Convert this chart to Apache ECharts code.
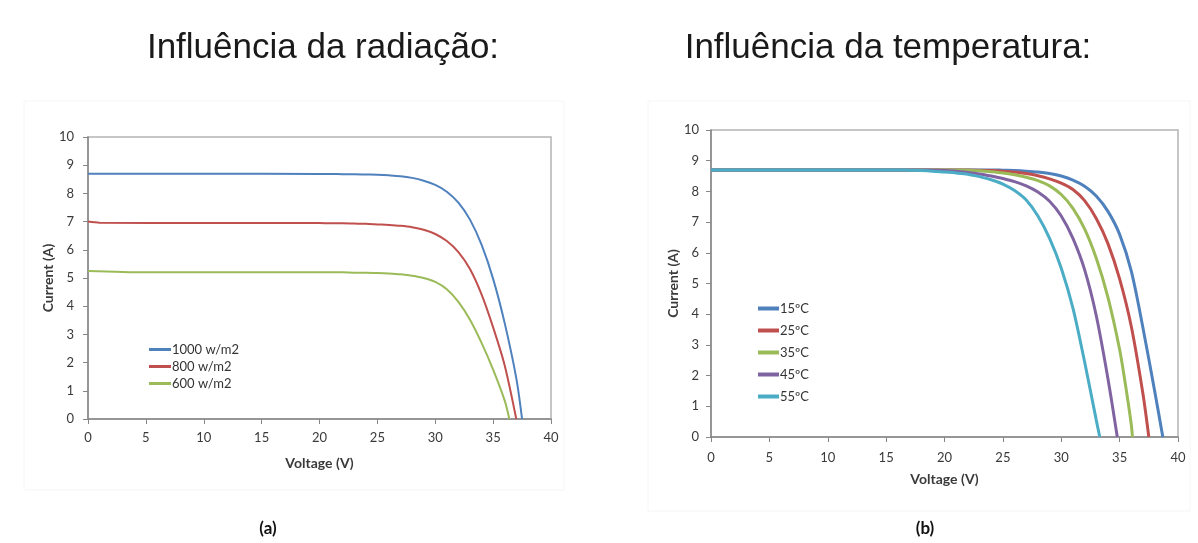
<!DOCTYPE html>
<html>
<head>
<meta charset="utf-8">
<script src="https://cdn.jsdelivr.net/npm/echarts@6/dist/echarts.min.js"></script>
<style>
  html, body { margin: 0; padding: 0; background: #fff; }
  #chart { width: 1198px; height: 543px; }
</style>
</head>
<body>
<div id="chart"></div>
<script>
// Voltage ticks shared by both panels
const voltageTicks = [0, 5, 10, 15, 20, 25, 30, 35, 40];
const currentTicks = [0, 1, 2, 3, 4, 5, 6, 7, 8, 9, 10];

// Panel (a): I-V curves for different irradiance levels, [V, I]
const irr1000 = [[0,8.7],[10,8.7],[20,8.69],[21,8.69],[22,8.68],[23,8.68],[24,8.67],[25,8.66],[26,8.64],[27,8.61],[28,8.55],[29,8.45],[30,8.3],[31,8.06],[32,7.67],[33,7.07],[34,6.18],[35,4.97],[36,3.4],[37,1.45],[37.5,0]];
const irr800  = [[0,7.0],[1,6.96],[10,6.95],[20,6.95],[21,6.94],[22,6.94],[23,6.93],[24,6.92],[25,6.9],[26,6.88],[27,6.85],[28,6.8],[29,6.71],[30,6.56],[31,6.31],[32,5.92],[33,5.32],[34,4.42],[35,3.25],[36,1.9],[37,0]];
const irr600  = [[0,5.25],[5,5.2],[20,5.2],[21,5.2],[22,5.2],[23,5.19],[24,5.19],[25,5.18],[26,5.16],[27,5.13],[28,5.08],[29,5.0],[30,4.86],[31,4.6],[32,4.15],[33,3.52],[34,2.7],[35,1.75],[36,0.65],[36.4,0]];
const irrNames = ['1000 w/m2', '800 w/m2', '600 w/m2'];

// Panel (b): I-V curves for different cell temperatures, [V, I]
const temp15 = [[0,8.7],[20,8.7],[24,8.7],[25,8.69],[26,8.68],[27,8.66],[28,8.63],[29,8.58],[30,8.5],[31,8.37],[32,8.17],[33,7.85],[34,7.35],[35,6.6],[36,5.4],[37,3.55],[38,1.5],[38.7,0]];
const temp25 = [[0,8.7],[20,8.7],[22,8.7],[24,8.68],[25,8.66],[26,8.63],[27,8.58],[28,8.51],[29,8.41],[30,8.27],[31,8.06],[32,7.7],[33,7.12],[34,6.3],[35,5.15],[36,3.6],[37,1.4],[37.5,0]];
const temp35 = [[0,8.7],[18,8.7],[20,8.7],[22,8.69],[23,8.67],[24,8.64],[25,8.6],[26,8.54],[27,8.46],[28,8.35],[29,8.18],[30,7.9],[31,7.45],[32,6.78],[33,5.82],[34,4.55],[35,2.85],[35.5,1.7],[36,0.4],[36.1,0]];
const temp45 = [[0,8.7],[18,8.7],[19,8.69],[20,8.68],[21,8.66],[22,8.62],[23,8.57],[24,8.5],[25,8.42],[26,8.32],[27,8.18],[28,7.98],[29,7.68],[30,7.2],[31,6.47],[32,5.45],[33,3.95],[34,1.9],[34.8,0]];
const temp55 = [[0,8.7],[16,8.7],[17,8.69],[18,8.68],[19,8.66],[20,8.63],[21,8.6],[22,8.56],[23,8.48],[24,8.38],[25,8.24],[26,8.03],[27,7.72],[28,7.2],[29,6.47],[30,5.5],[31,4.2],[32,2.45],[33,0.55],[33.3,0]];
const tempNames = ['15ºC', '25ºC', '35ºC', '45ºC', '55ºC'];

const palette = ['#4F81BD', '#C0504D', '#9BBB59', '#8064A2', '#4BACC6'];
const font = 'Lato, "Open Sans", sans-serif';
const axisGray = '#868686';

function xAxisFor(gridIndex, nameGap, labelMargin) {
  return {
    gridIndex, type: 'value', min: voltageTicks[0], max: voltageTicks[voltageTicks.length - 1],
    interval: voltageTicks[1] - voltageTicks[0],
    name: 'Voltage (V)', nameLocation: 'middle', nameGap,
    nameTextStyle: { fontFamily: font, fontSize: 14, fontWeight: 'bold', color: '#3a3a3a' },
    axisLine: { show: true, onZero: false, lineStyle: { color: axisGray, width: 1.5 } },
    axisTick: { show: true, inside: false, length: 5, lineStyle: { color: axisGray } },
    axisLabel: { margin: labelMargin, fontFamily: font, fontSize: 13, color: '#3a3a3a' },
    splitLine: { show: false }
  };
}
function yAxisFor(gridIndex, nameGap, labelMargin) {
  return {
    gridIndex, type: 'value', min: currentTicks[0], max: currentTicks[currentTicks.length - 1],
    interval: currentTicks[1] - currentTicks[0],
    name: 'Current (A)', nameLocation: 'middle', nameGap, nameRotate: 90,
    nameTextStyle: { fontFamily: font, fontSize: 14, fontWeight: 'bold', color: '#3a3a3a' },
    axisLine: { show: true, onZero: false, lineStyle: { color: axisGray, width: 1.5 } },
    axisTick: { show: true, inside: false, length: 5, lineStyle: { color: axisGray } },
    axisLabel: { margin: labelMargin, fontFamily: font, fontSize: 13, color: '#3a3a3a' },
    splitLine: { show: false }
  };
}
function curve(name, data, idx, color, width) {
  return {
    name, type: 'line', xAxisIndex: idx, yAxisIndex: idx, data,
    showSymbol: false, symbol: 'none', smooth: 0.3,
    lineStyle: { color, width }, itemStyle: { color }, z: 3
  };
}

const chart = echarts.init(document.getElementById('chart'), null, { renderer: 'canvas' });
chart.setOption({
  backgroundColor: '#ffffff',
  animation: false,
  title: [
    { text: 'Influência da radiação:', left: 318, top: 26, textAlign: 'center',
      textStyle: { fontFamily: '"Liberation Sans", Arial, sans-serif', fontSize: 35, fontWeight: 'normal', color: '#1a1a1a' } },
    { text: 'Influência da temperatura:', left: 883, top: 26, textAlign: 'center',
      textStyle: { fontFamily: '"Liberation Sans", Arial, sans-serif', fontSize: 35, fontWeight: 'normal', color: '#1a1a1a' } },
    { text: '(a)', left: 263, top: 515, textAlign: 'center',
      textStyle: { fontFamily: font, fontSize: 17, fontWeight: 'bold', color: '#111' } },
    { text: '(b)', left: 920, top: 515, textAlign: 'center',
      textStyle: { fontFamily: font, fontSize: 17, fontWeight: 'bold', color: '#111' } }
  ],
  graphic: [
    { type: 'rect', shape: { x: 24, y: 101, width: 540, height: 389 }, style: { fill: 'none', stroke: '#f6f6f6', lineWidth: 1 }, z: -1 },
    { type: 'rect', shape: { x: 648, y: 101, width: 542, height: 410 }, style: { fill: 'none', stroke: '#f6f6f6', lineWidth: 1 }, z: -1 }
  ],
  grid: [
    { left: 88, top: 137, width: 463, height: 282, show: true, borderColor: '#b4b4b4', borderWidth: 1.5, backgroundColor: 'transparent' },
    { left: 711, top: 130, width: 467, height: 307, show: true, borderColor: '#b4b4b4', borderWidth: 1.5, backgroundColor: 'transparent' }
  ],
  xAxis: [xAxisFor(0, 37, 12), xAxisFor(1, 35, 14)],
  yAxis: [yAxisFor(0, 33, 14), yAxisFor(1, 31, 12)],
  legend: [
    { data: irrNames, orient: 'vertical', left: 144, top: 338, itemGap: 4,
      icon: 'rect', itemWidth: 22, itemHeight: 3,
      textStyle: { fontFamily: font, fontSize: 13, color: '#333', padding: [0, 0, 0, -4] } },
    { data: tempNames, orient: 'vertical', left: 753, top: 297, itemGap: 9,
      icon: 'rect', itemWidth: 21, itemHeight: 4,
      textStyle: { fontFamily: font, fontSize: 13, color: '#333', padding: [0, 0, 0, -4] } }
  ],
  series: [
    curve(irrNames[0], irr1000, 0, palette[0], 2),
    curve(irrNames[1], irr800, 0, palette[1], 2),
    curve(irrNames[2], irr600, 0, palette[2], 2),
    curve(tempNames[0], temp15, 1, palette[0], 3),
    curve(tempNames[1], temp25, 1, palette[1], 3),
    curve(tempNames[2], temp35, 1, palette[2], 3),
    curve(tempNames[3], temp45, 1, palette[3], 3),
    curve(tempNames[4], temp55, 1, palette[4], 3)
  ]
});
</script>
</body>
</html>
